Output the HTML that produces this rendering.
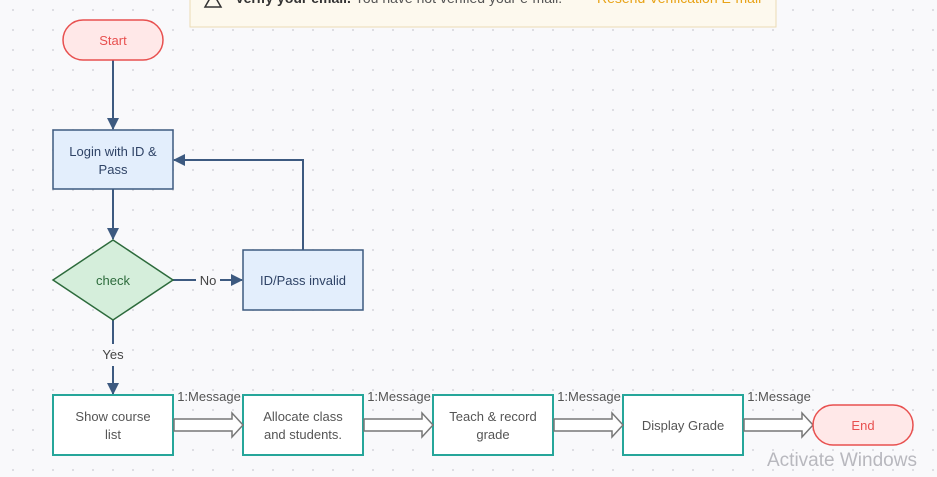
<!DOCTYPE html>
<html><head><style>
body{margin:0;width:937px;height:477px;overflow:hidden;background:#f9f9fb;font-family:"Liberation Sans",sans-serif;}
</style></head><body>
<svg width="937" height="477" xmlns="http://www.w3.org/2000/svg" style="position:absolute;left:0;top:0">
<defs>
<pattern id="d" width="20" height="20" patternUnits="userSpaceOnUse" x="3" y="0"><circle cx="10" cy="10" r="1" fill="#d6d6dc"/></pattern>
<marker id="a" markerWidth="12" markerHeight="12" refX="11" refY="6" orient="auto" markerUnits="userSpaceOnUse"><path d="M0,0 L12,6 L0,12 z" fill="#3d5a80"/></marker>
</defs>
<rect width="937" height="477" fill="url(#d)"/>
<rect x="190" y="-5" width="586" height="32" fill="#fdf9ee" stroke="#ecdcb4"/>
<text x="235" y="3" font-size="14" fill="#333" font-weight="bold">Verify your email. <tspan font-weight="normal" fill="#555">You have not verified your e-mail.</tspan></text>
<text x="597" y="3" font-size="14" fill="#e8a317">Resend Verification E-mail</text>
<path d="M205,7 L213,-7 L221,7 z" fill="none" stroke="#333" stroke-width="1.5"/>
<g stroke="#3d5a80" stroke-width="2" fill="none">
<line x1="113" y1="60" x2="113" y2="129" marker-end="url(#a)"/>
<line x1="113" y1="189" x2="113" y2="239" marker-end="url(#a)"/>
<line x1="173" y1="280" x2="196" y2="280"/>
<line x1="220" y1="280" x2="242" y2="280" marker-end="url(#a)"/>
<polyline points="303,250 303,160 174,160" marker-end="url(#a)"/>
<line x1="113" y1="320" x2="113" y2="344"/>
<line x1="113" y1="366" x2="113" y2="394" marker-end="url(#a)"/>
</g>
<rect x="63" y="20" width="100" height="40" rx="20" fill="#ffe8e8" stroke="#e8504f" stroke-width="1.5"/>
<text x="113" y="45" font-size="13" fill="#e8504f" text-anchor="middle">Start</text>
<rect x="53" y="130" width="120" height="59" fill="#e3eefc" stroke="#3d5a80" stroke-width="1.5"/>
<text x="113" y="156" font-size="13" fill="#2f4366" text-anchor="middle">Login with ID &amp;</text>
<text x="113" y="174" font-size="13" fill="#2f4366" text-anchor="middle">Pass</text>
<polygon points="113,240 173,280 113,320 53,280" fill="#d5eedb" stroke="#2d6b3c" stroke-width="1.5"/>
<text x="113" y="285" font-size="13" fill="#2d6b3c" text-anchor="middle">check</text>
<text x="208" y="285" font-size="13" fill="#444" text-anchor="middle">No</text>
<rect x="243" y="250" width="120" height="60" fill="#e3eefc" stroke="#3d5a80" stroke-width="1.5"/>
<text x="303" y="285" font-size="13" fill="#2f4366" text-anchor="middle">ID/Pass invalid</text>
<text x="113" y="359" font-size="13" fill="#444" text-anchor="middle">Yes</text>
<g fill="#fff" stroke="#26a69a" stroke-width="2">
<rect x="53" y="395" width="120" height="60"/><rect x="243" y="395" width="120" height="60"/>
<rect x="433" y="395" width="120" height="60"/><rect x="623" y="395" width="120" height="60"/>
</g>
<g fill="#fff" stroke="#777" stroke-width="1.5">
<path d="M174,419 L232,419 L232,413 L243,425 L232,437 L232,431 L174,431 z"/>
<path d="M364,419 L422,419 L422,413 L433,425 L422,437 L422,431 L364,431 z"/>
<path d="M554,419 L612,419 L612,413 L623,425 L612,437 L612,431 L554,431 z"/>
<path d="M744,419 L802,419 L802,413 L813,425 L802,437 L802,431 L744,431 z"/>
</g>
<g font-size="13" fill="#555" text-anchor="middle">
<text x="209" y="401">1:Message</text><text x="399" y="401">1:Message</text>
<text x="589" y="401">1:Message</text><text x="779" y="401">1:Message</text>
<text x="113" y="421">Show course</text><text x="113" y="439">list</text>
<text x="303" y="421">Allocate class</text><text x="303" y="439">and students.</text>
<text x="493" y="421">Teach &amp; record</text><text x="493" y="439">grade</text>
<text x="683" y="430">Display Grade</text>
</g>
<rect x="813" y="405" width="100" height="40" rx="20" fill="#ffe8e8" stroke="#e8504f" stroke-width="1.5"/>
<text x="863" y="430" font-size="13" fill="#e8504f" text-anchor="middle">End</text>
<text x="767" y="466" font-size="19" fill="#b8b8be">Activate Windows</text>
</svg>
</body></html>
